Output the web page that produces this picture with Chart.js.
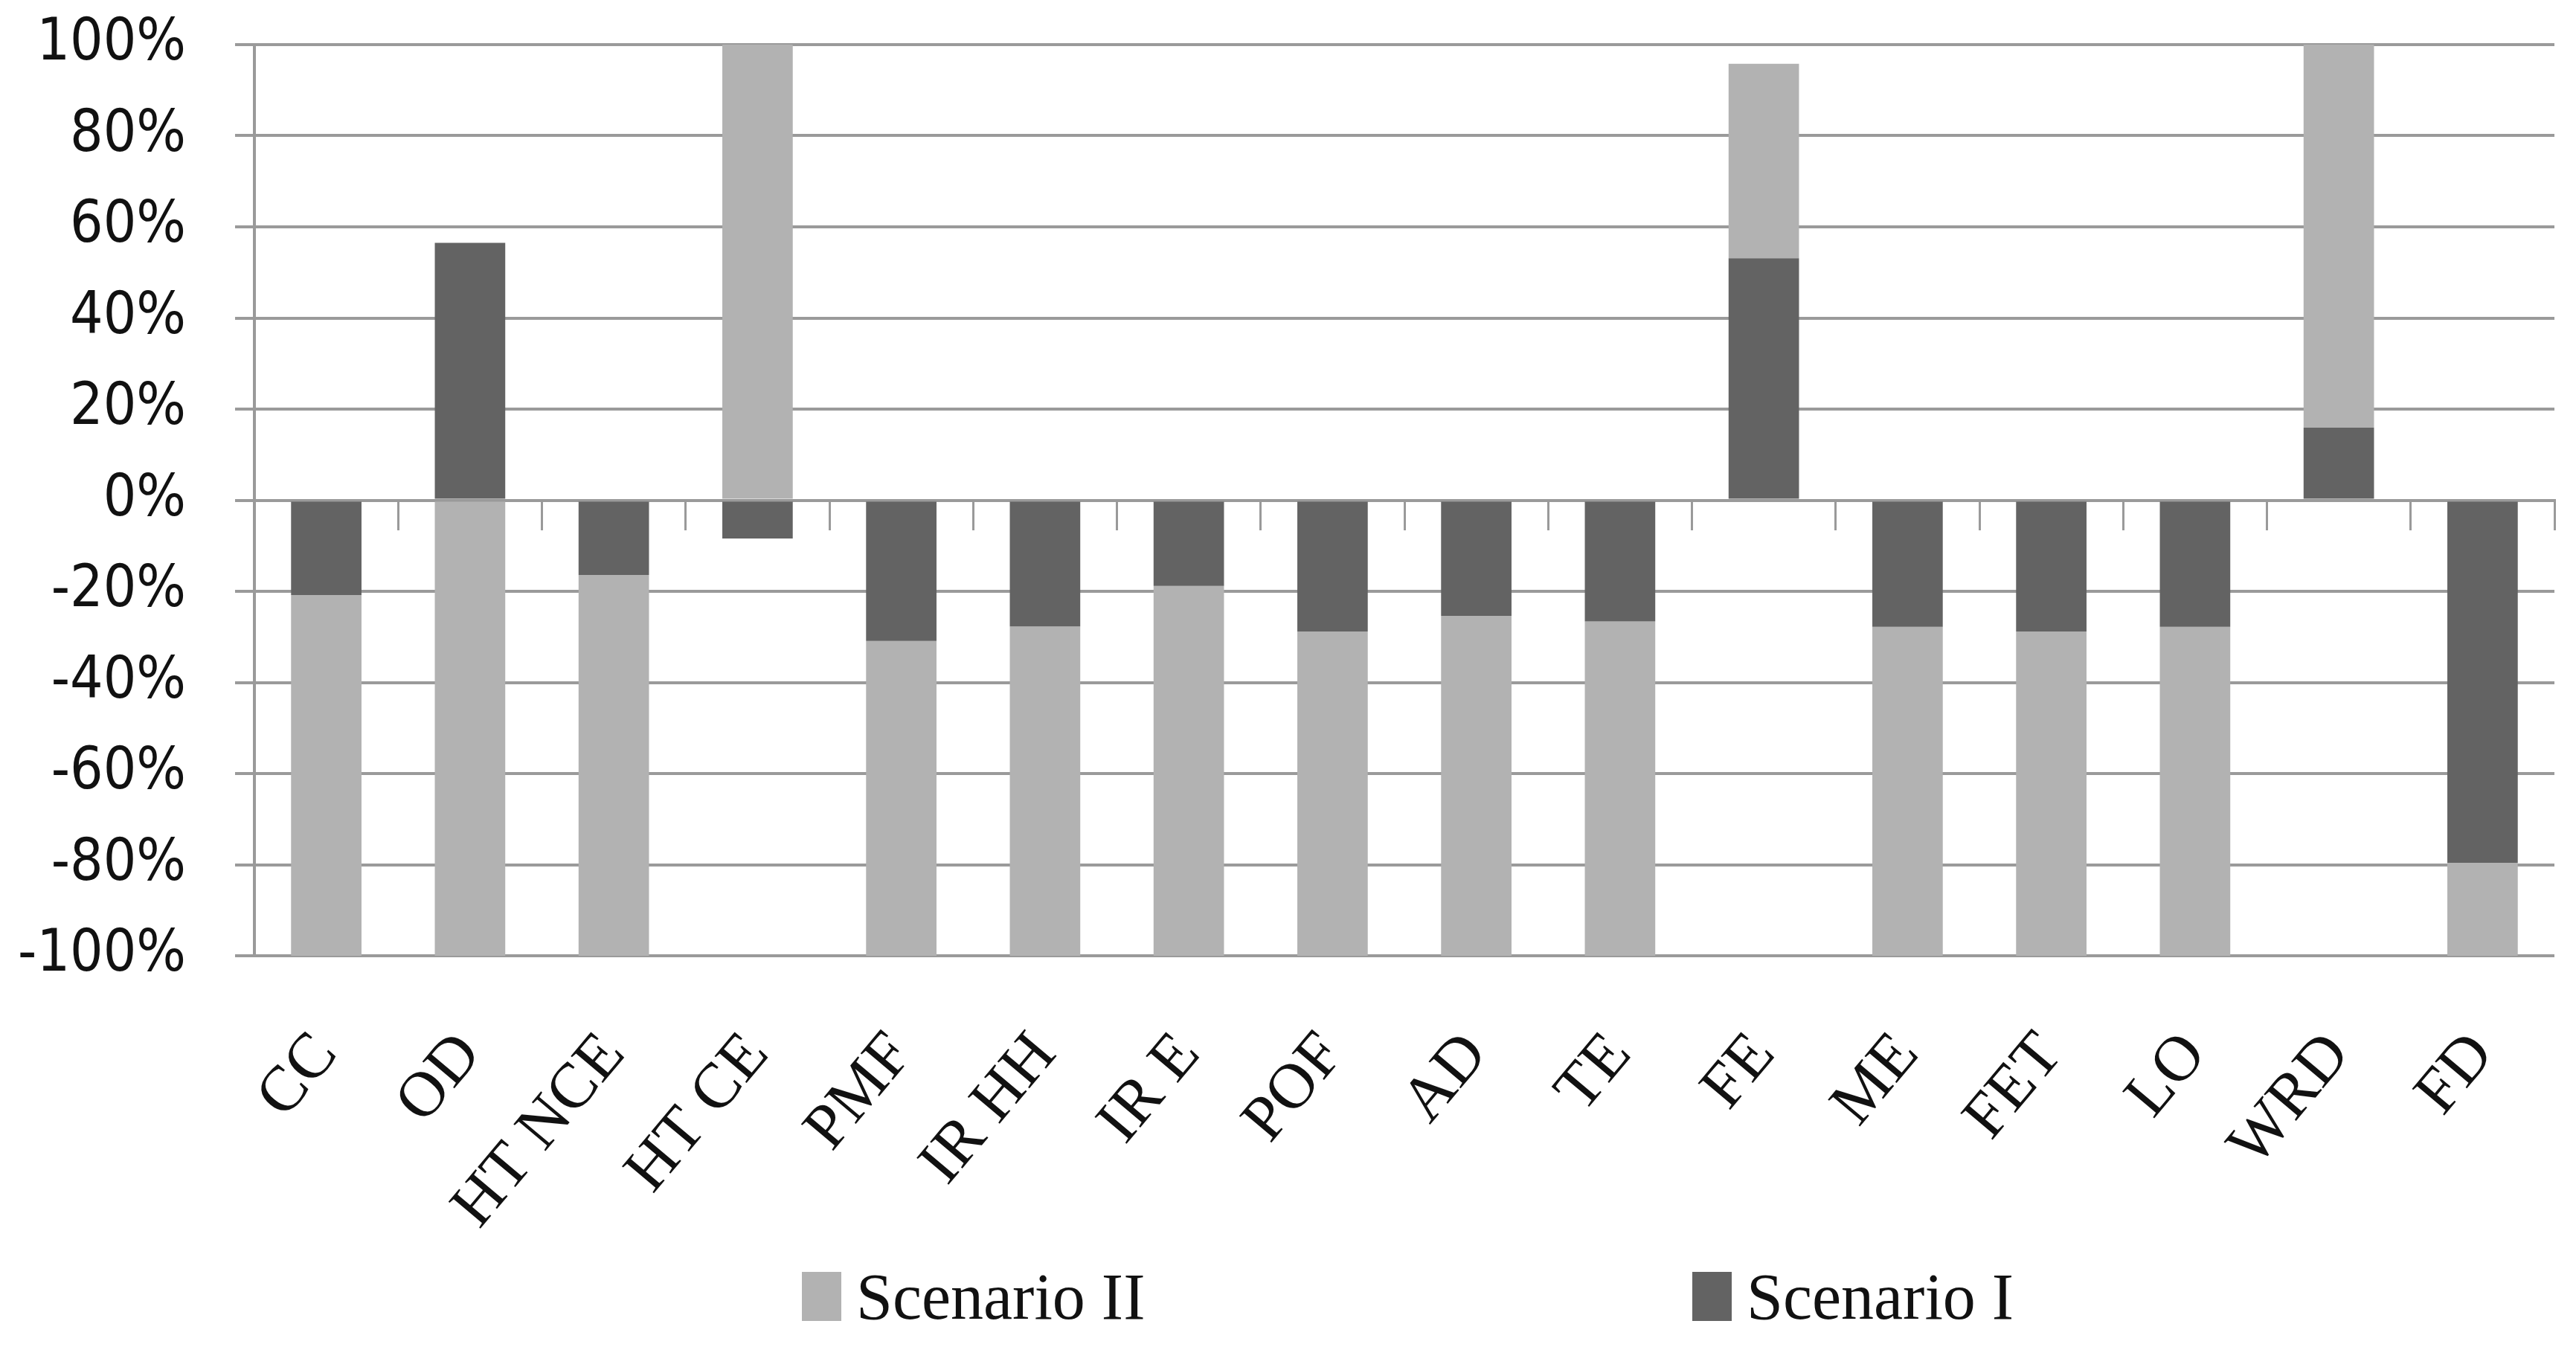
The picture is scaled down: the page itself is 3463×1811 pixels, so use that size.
<!DOCTYPE html>
<html>
<head>
<meta charset="utf-8">
<script src="https://cdn.jsdelivr.net/npm/chart.js@4"></script>
<style>
    html, body { margin: 0; padding: 0; background: #fff; }
    #wrap { position: relative; width: 3463px; height: 1811px; }
    #legend { position: absolute; left: 0; top: 1698px; width: 3463px; height: 90px; }
    .item { position: absolute; top: 0; display: flex; align-items: center; height: 90px;
            font-family: 'Liberation Serif', serif; font-size: 88px; color: #111; }
    .box { width: 53px; height: 66px; margin-right: 20px; }
</style>
</head>
<body>
<div id="wrap">
    <canvas id="chart" width="3463" height="1811"></canvas>
    <div id="legend"></div>
</div>
<script>
const categories = ['CC', 'OD', 'HT NCE', 'HT CE', 'PMF', 'IR HH', 'IR E', 'POF', 'AD', 'TE', 'FE', 'ME', 'FET', 'LO', 'WRD', 'FD'];
const scenario1 = [-20.8, 56.5, -16.4, -8.4, -30.9, -27.7, -18.8, -28.8, -25.4, -26.6, 53.1, -27.8, -28.8, -27.8, 15.9, -79.6];
const scenario2 = [-79.2, -100, -83.6, 100, -69.1, -72.3, -81.2, -71.2, -74.6, -73.4, 42.7, -72.2, -71.2, -72.2, 84.1, -20.4];
const yTicks = [-100, -80, -60, -40, -20, 0, 20, 40, 60, 80, 100];

const darkGray = '#636363';
const lightGray = '#b2b2b2';
const gridGray = '#9a9a9a';

// legend drawn as html (items are far apart in the original)
const legendItems = [
    { label: 'Scenario II', color: lightGray, left: 1078 },
    { label: 'Scenario I', color: darkGray, left: 2275 }
];
const legend = document.getElementById('legend');
legendItems.forEach(function (it) {
    const div = document.createElement('div');
    div.className = 'item';
    div.style.left = it.left + 'px';
    div.innerHTML = '<span class="box" style="background:' + it.color + '"></span><span>' + it.label + '</span>';
    legend.appendChild(div);
});

const ctx = document.getElementById('chart').getContext('2d');
new Chart(ctx, {
    type: 'bar',
    data: {
        labels: categories,
        datasets: [{
            label: 'Scenario I',
            data: scenario1,
            backgroundColor: darkGray,
            categoryPercentage: 1,
            barPercentage: 0.49
        }, {
            label: 'Scenario II',
            data: scenario2,
            backgroundColor: lightGray,
            categoryPercentage: 1,
            barPercentage: 0.49
        }]
    },
    options: {
        responsive: false,
        animation: false,
        layout: { padding: { left: 0, right: 29, top: 60, bottom: 0 } },
        plugins: {
            legend: { display: false },
            tooltip: { enabled: false }
        },
        scales: {
            x: {
                stacked: true,
                grid: { display: false, drawTicks: false },
                border: { display: false },
                ticks: {
                    minRotation: 50,
                    maxRotation: 50,
                    padding: 85,
                    color: '#111',
                    font: { family: 'Liberation Serif', size: 86 }
                },
                afterFit: function (scale) {
                    scale.height = 526;
                    scale.paddingLeft = 0;
                    scale.paddingRight = 0;
                }
            },
            x2: {
                type: 'category',
                position: { y: 0 },
                offset: true,
                grid: { offset: true, drawOnChartArea: false, drawTicks: true, tickLength: 38, color: gridGray, lineWidth: 3 },
                border: { display: true, color: gridGray, width: 4 },
                ticks: { display: false },
                afterFit: function (scale) {
                    scale.height = 0;
                    scale.paddingLeft = 0;
                    scale.paddingRight = 0;
                }
            },
            y: {
                stacked: true,
                min: -100,
                max: 100,
                afterBuildTicks: function (scale) {
                    scale.ticks = yTicks.map(v => ({ value: v }));
                },
                grid: { color: gridGray, lineWidth: 4, tickLength: 26 },
                border: { display: true, color: gridGray, width: 4 },
                ticks: {
                    padding: 66,
                    color: '#111',
                    font: { family: 'DejaVu Sans Condensed', size: 78 },
                    callback: function (v) { return v + '%'; }
                },
                afterFit: function (scale) {
                    scale.width = 342;
                    scale.paddingTop = 0;
                    scale.paddingBottom = 0;
                }
            }
        }
    }
});
</script>
</body>
</html>
